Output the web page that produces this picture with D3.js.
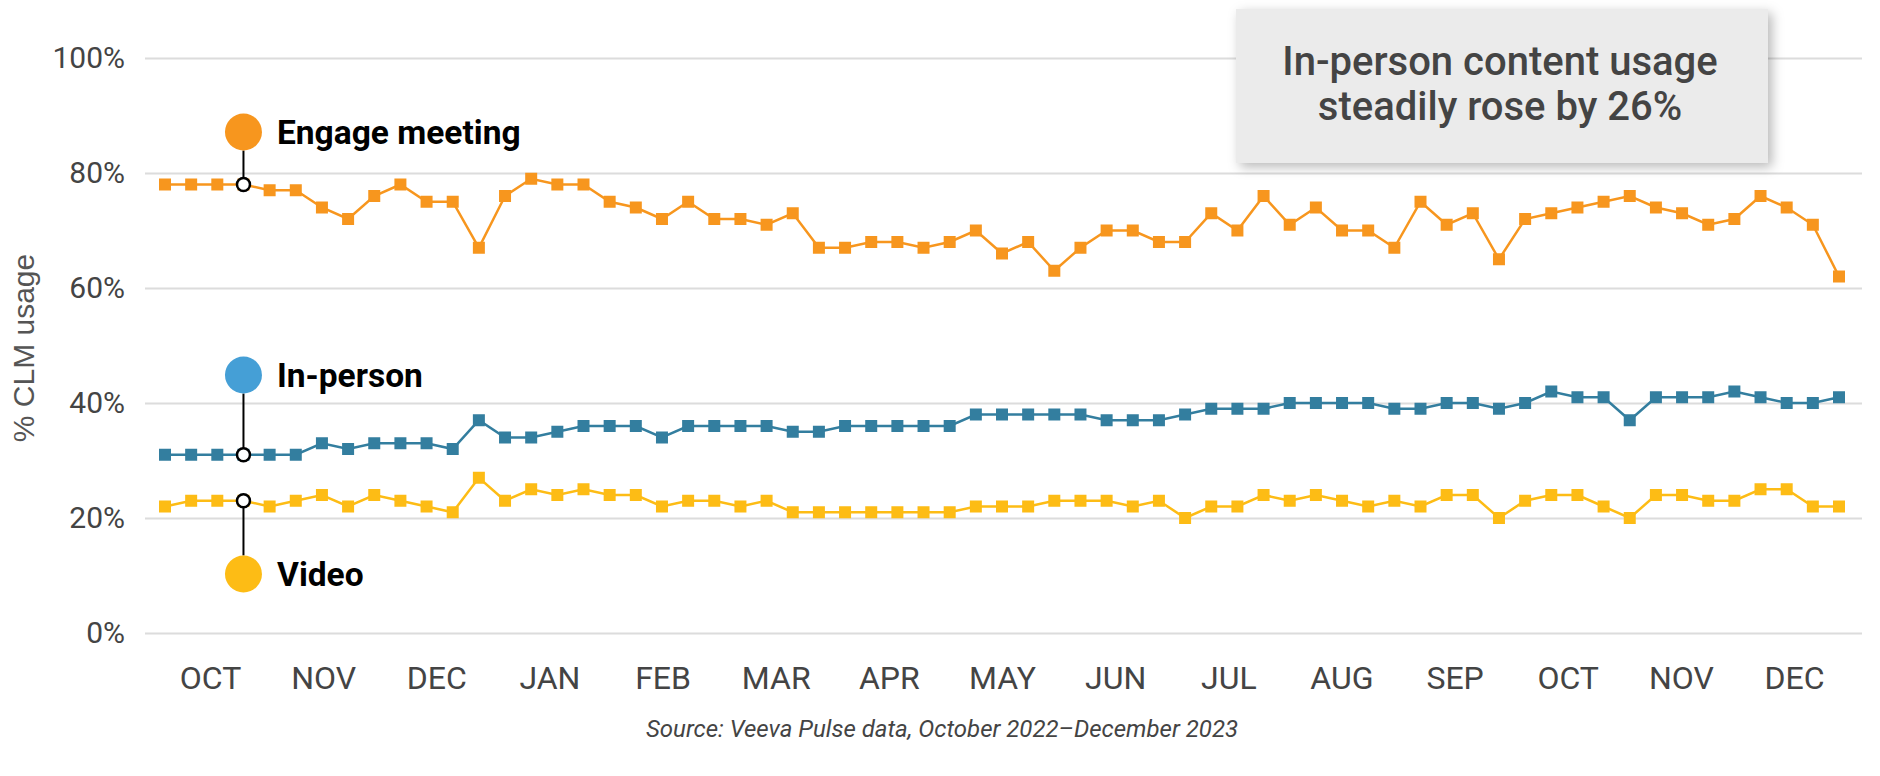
<!DOCTYPE html>
<html>
<head>
<meta charset="utf-8">
<script src="https://cdn.jsdelivr.net/npm/d3@7"></script>
<style>
  body { margin: 0; background: #fff; }
  svg { display: block; }
</style>
</head>
<body>
<svg id="chart"></svg>
<script>
// weekly values, Oct 2022 - Dec 2023 (65 weeks)
const engage = [78,78,78,78,77,77,74,72,76,78,75,75,67,76,79,78,78,75,74,72,
  75,72,72,71,73,67,67,68,68,67,68,70,66,68,63,67,70,70,68,68,
  73,70,76,71,74,70,70,67,75,71,73,65,72,73,74,75,76,74,73,71,
  72,76,74,71,62];
const inPerson = [31,31,31,31,31,31,33,32,33,33,33,32,37,34,34,35,36,
  36,36,34,36,36,36,36,35,35,36,36,36,36,36,38,38,38,38,38,37,37,37,38,39,39,
  39,40,40,40,40,39,39,40,40,39,40,42,41,41,37,41,41,41,42,41,40,40,41];
const video = [22,23,23,23,22,23,24,22,24,23,22,21,27,23,25,24,25,24,24,
  22,23,23,22,23,21,21,21,21,21,21,21,22,22,22,23,23,23,22,23,20,22,22,
  24,23,24,23,22,23,22,24,24,20,23,24,24,22,20,24,24,23,23,25,25,22,22];
const months = ["OCT","NOV","DEC","JAN","FEB","MAR","APR","MAY","JUN","JUL","AUG","SEP","OCT","NOV","DEC"];
const yTicks = [0, 20, 40, 60, 80, 100];
const labelWeek = 3;

const W = 1880, H = 776;
const svg = d3.select("#chart").attr("width", W).attr("height", H);

const x = d3.scaleLinear().domain([0, engage.length - 1]).range([165, 1839]);
const xm = d3.scalePoint().domain(d3.range(months.length)).range([210, 1794]);
const y = d3.scaleLinear().domain([0, 100]).range([633, 58]);
const gridL = 145, gridR = 1862;

// shadow for the callout
const defs = svg.append("defs");
const f = defs.append("filter").attr("id", "shadow")
  .attr("x", "-10%").attr("y", "-20%").attr("width", "125%").attr("height", "150%");
f.append("feDropShadow").attr("dx", 4).attr("dy", 4).attr("stdDeviation", 6)
  .attr("flood-color", "#000").attr("flood-opacity", 0.28);

// y axis + grid
const yAxis = svg.append("g")
  .attr("transform", `translate(${gridL},0)`)
  .call(d3.axisLeft(y).tickValues(yTicks).tickFormat(d => d + "%")
    .tickSize(-(gridR - gridL)).tickPadding(20));
yAxis.select(".domain").remove();
yAxis.selectAll(".tick line").attr("stroke", "#dcdcdc").attr("stroke-width", 2);
yAxis.selectAll(".tick text")
  .attr("fill", "#444").attr("font-family", "Roboto").attr("font-size", 30);

// month axis
const xAxis = svg.append("g")
  .attr("transform", `translate(0,${y(0)})`)
  .call(d3.axisBottom(xm).tickFormat(i => months[i]).tickSize(0).tickPadding(33));
xAxis.select(".domain").remove();
xAxis.selectAll(".tick text")
  .attr("fill", "#444").attr("font-family", "Roboto").attr("font-size", 32);

// y title
svg.append("text")
  .attr("transform", "translate(34,348) rotate(-90)")
  .attr("text-anchor", "middle")
  .attr("font-family", "Liberation Sans, Arial, sans-serif")
  .attr("font-size", 30).attr("fill", "#555")
  .text("% CLM usage");

// source
svg.append("text")
  .attr("x", 942).attr("y", 737).attr("text-anchor", "middle")
  .attr("font-family", "Roboto").attr("font-style", "italic")
  .attr("font-size", 24).attr("fill", "#444")
  .text("Source: Veeva Pulse data, October 2022\u2013December 2023");

// series
const series = [
  { name: "Engage meeting", values: engage, line: "#F7961E", dot: "#F7961E", bubbleY: 132 },
  { name: "In-person", values: inPerson, line: "#337E9F", dot: "#459FD6", bubbleY: 375 },
  { name: "Video", values: video, line: "#FDBC15", dot: "#FDBC15", bubbleY: 574 }
];

const line = d3.line().x((d, i) => x(i)).y(d => y(d));
const sq = 12;

series.forEach(s => {
  const g = svg.append("g");
  g.append("path").datum(s.values)
    .attr("d", line).attr("fill", "none")
    .attr("stroke", s.line).attr("stroke-width", 2.5);
  g.selectAll("rect").data(s.values).join("rect")
    .attr("x", (d, i) => x(i) - sq / 2)
    .attr("y", d => y(d) - sq / 2)
    .attr("width", sq).attr("height", sq)
    .attr("fill", s.line);
});

// labels with leader lines
const bubbleR = 18.5, ringR = 6.5;
series.forEach(s => {
  const cx = x(labelWeek), cy = y(s.values[labelWeek]);
  const up = s.bubbleY < cy;
  svg.append("line")
    .attr("x1", cx).attr("x2", cx)
    .attr("y1", up ? s.bubbleY + bubbleR : s.bubbleY - bubbleR)
    .attr("y2", up ? cy - ringR : cy + ringR)
    .attr("stroke", "#000").attr("stroke-width", 2);
  svg.append("circle").attr("cx", cx).attr("cy", cy).attr("r", ringR)
    .attr("fill", "#fff").attr("stroke", "#000").attr("stroke-width", 2.5);
  svg.append("circle").attr("cx", cx).attr("cy", s.bubbleY).attr("r", bubbleR)
    .attr("fill", s.dot);
  svg.append("text")
    .attr("x", 277).attr("y", s.bubbleY + 12)
    .attr("font-family", "Roboto").attr("font-weight", "bold")
    .attr("font-size", 33.5).attr("fill", "#000")
    .text(s.name);
});

// callout
const box = svg.append("g");
box.append("rect")
  .attr("x", 1236).attr("y", 9).attr("width", 532).attr("height", 154)
  .attr("fill", "#EBEBEB").attr("filter", "url(#shadow)");
box.selectAll("text")
  .data(["In-person content usage", "steadily rose by 26%"])
  .join("text")
  .attr("x", 1500).attr("y", (d, i) => 75 + i * 45)
  .attr("text-anchor", "middle")
  .attr("font-family", "Roboto").attr("font-weight", 500)
  .attr("font-size", 40).attr("fill", "#444")
  .text(d => d);
</script>
</body>
</html>
